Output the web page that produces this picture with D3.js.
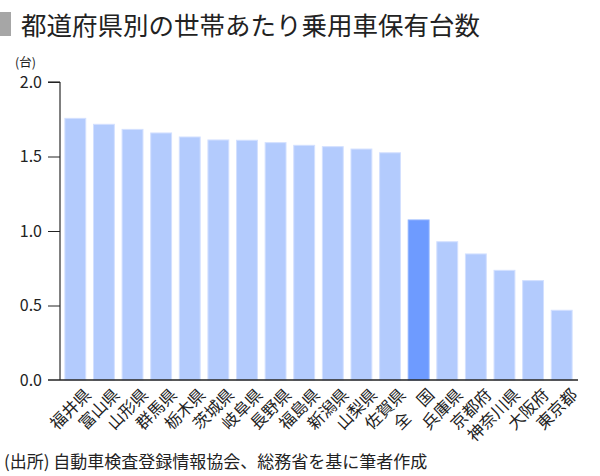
<!DOCTYPE html>
<html>
<head>
<meta charset="utf-8">
<script src="https://cdn.jsdelivr.net/npm/d3@7"></script>
<style>
  body { margin: 0; background: #fff; }
  text { font-family: "Noto Sans CJK JP", "Noto Sans", sans-serif; }
</style>
</head>
<body>
<div id="canvas"></div>
<script>
var prefs = ['福井県', '富山県', '山形県', '群馬県', '栃木県', '茨城県', '岐阜県', '長野県', '福島県',
             '新潟県', '山梨県', '佐賀県', '全　国', '兵庫県', '京都府', '神奈川県', '大阪府', '東京都'];
var cars = [1.756, 1.716, 1.682, 1.658, 1.631, 1.611, 1.609, 1.593, 1.575,
            1.566, 1.550, 1.525, 1.074, 0.928, 0.846, 0.736, 0.667, 0.468];
var yTicks = [0, 0.5, 1.0, 1.5, 2.0];

var width = 600, height = 476;

var svg = d3.select("#canvas").append("svg")
    .attr("width", width)
    .attr("height", height);

// title
svg.append("rect").attr("x", 0).attr("y", 12).attr("width", 11).attr("height", 24).attr("fill", "#a6a6a6");
svg.append("text").attr("x", 21).attr("y", 35)
    .style("font-size", "25.5px").attr("fill", "#222")
    .text("都道府県別の世帯あたり乗用車保有台数");

var x = d3.scaleBand().domain(prefs).range([60, 577]).paddingInner(0.27).paddingOuter(0.17);
var y = d3.scaleLinear().domain([0, 2]).range([380, 82]);

// bars
svg.selectAll("rect.bar").data(cars).enter().append("rect")
    .attr("class", "bar")
    .attr("x", function (d, i) { return x(prefs[i]); })
    .attr("y", function (d) { return y(d); })
    .attr("width", x.bandwidth())
    .attr("height", function (d) { return y(0) - y(d); })
    .attr("fill", function (d, i) { return prefs[i] === '全　国' ? "#6e9bff" : "#b3cbfd"; })
    .attr("stroke", function (d, i) { return prefs[i] === '全　国' ? "#8fb2ff" : "#d3e0ff"; })
    .attr("stroke-width", 1);

// y axis
var yAxis = svg.append("g").attr("transform", "translate(60,0)")
    .call(d3.axisLeft(y).tickValues(yTicks).tickFormat(d3.format(".1f")).tickSize(12).tickPadding(6));
yAxis.select(".domain").attr("d", "M-12," + y(2) + "H0V" + y(0));
yAxis.selectAll("line").attr("stroke", "#222");
yAxis.selectAll("text").style("font-size", "16px").attr("fill", "#222")
    .style("font-family", "\"Noto Sans CJK JP\", sans-serif");
yAxis.selectAll(".tick").filter(function (d) { return d === 0; }).select("line").remove();

// baseline
svg.append("line").attr("x1", 48).attr("x2", 578).attr("y1", y(0)).attr("y2", y(0))
    .attr("stroke", "#222").attr("stroke-width", 1.3);

svg.append("text").attr("x", 15).attr("y", 67).style("font-size", "12.5px").attr("fill", "#222").text("(台)");

// x labels
svg.selectAll("text.xl").data(prefs).enter().append("text")
    .attr("class", "xl")
    .attr("transform", function (d) {
        return "translate(" + (x(d) + x.bandwidth() / 2 + 8) + ",387) rotate(-45)";
    })
    .attr("text-anchor", "end")
    .attr("dy", "0.75em")
    .style("font-size", "16.5px").attr("fill", "#222")
    .text(function (d) { return d; });

// source
svg.append("text").attr("x", 4).attr("y", 468)
    .style("font-size", "17px").attr("fill", "#222")
    .text("(出所) 自動車検査登録情報協会、総務省を基に筆者作成");
</script>
</body>
</html>
